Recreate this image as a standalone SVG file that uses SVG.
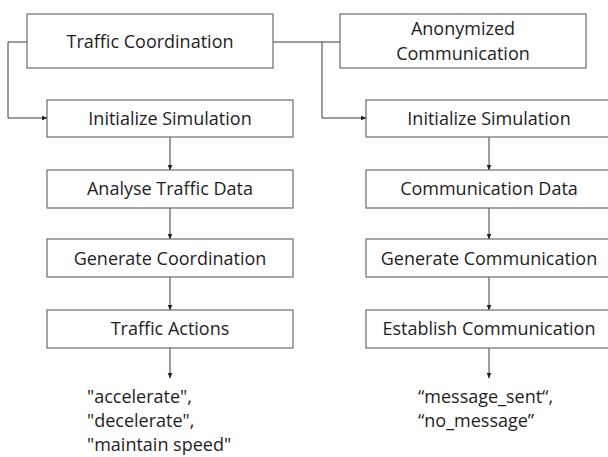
<svg xmlns="http://www.w3.org/2000/svg" width="608" height="457" viewBox="0 0 608 457">
<defs>
<style>
.box{fill:#fff;stroke:#6b6b6b;stroke-width:1.2}
.t{font-family:"Open Sans","Liberation Sans",sans-serif;font-size:18px;fill:#1e1e1e;text-anchor:middle}
.o{font-family:"Open Sans","Liberation Sans",sans-serif;font-size:18px;fill:#1e1e1e}
.c{fill:none;stroke:#3a3a3a;stroke-width:1}
</style>
<marker id="ah" markerWidth="6" markerHeight="6" refX="5.5" refY="3" orient="auto" markerUnits="userSpaceOnUse">
<path d="M0,0.5 L6,3 L0,5.5 Z" fill="#222"/>
</marker>
</defs>
<rect width="608" height="457" fill="#fff"/>
<g id="connectors">
<path class="c" d="M27,42 H8 V118 H47" marker-end="url(#ah)"/>
<path class="c" d="M273,42 H340"/>
<path class="c" d="M322,42 V118 H366" marker-end="url(#ah)"/>
<path class="c" d="M170,137 V170" marker-end="url(#ah)"/>
<path class="c" d="M170,208 V239" marker-end="url(#ah)"/>
<path class="c" d="M170,277 V310" marker-end="url(#ah)"/>
<path class="c" d="M170,348 V378" marker-end="url(#ah)"/>
<path class="c" d="M489,137 V170" marker-end="url(#ah)"/>
<path class="c" d="M489,208 V239" marker-end="url(#ah)"/>
<path class="c" d="M489,277 V310" marker-end="url(#ah)"/>
<path class="c" d="M489,348 V378" marker-end="url(#ah)"/>
</g>
<g id="traffic-coordination">
<rect class="box" x="27" y="14" width="246" height="54"/>
<text class="t" x="150" y="48">Traffic Coordination</text>
</g>
<g id="anonymized-communication">
<rect class="box" x="340" y="14" width="246" height="54"/>
<text class="t" x="463" y="35">Anonymized</text>
<text class="t" x="463" y="60">Communication</text>
</g>
<g id="init-sim-left">
<rect class="box" x="47" y="100" width="246" height="37"/>
<text class="t" x="170" y="125">Initialize Simulation</text>
</g>
<g id="analyse-traffic">
<rect class="box" x="47" y="170" width="246" height="38"/>
<text class="t" x="170" y="195">Analyse Traffic Data</text>
</g>
<g id="generate-coordination">
<rect class="box" x="47" y="239" width="246" height="38"/>
<text class="t" x="170" y="265">Generate Coordination</text>
</g>
<g id="traffic-actions">
<rect class="box" x="47" y="310" width="246" height="38"/>
<text class="t" x="170" y="335">Traffic Actions</text>
</g>
<g id="traffic-output">
<text class="o" x="87" y="403">"accelerate",</text>
<text class="o" x="87" y="427">"decelerate",</text>
<text class="o" x="87" y="451">"maintain speed"</text>
</g>
<g id="init-sim-right">
<rect class="box" x="366" y="100" width="246" height="37"/>
<text class="t" x="489" y="125">Initialize Simulation</text>
</g>
<g id="communication-data">
<rect class="box" x="366" y="170" width="246" height="38"/>
<text class="t" x="489" y="195">Communication Data</text>
</g>
<g id="generate-communication">
<rect class="box" x="366" y="239" width="246" height="38"/>
<text class="t" x="489" y="265">Generate Communication</text>
</g>
<g id="establish-communication">
<rect class="box" x="366" y="310" width="246" height="38"/>
<text class="t" x="489" y="335">Establish Communication</text>
</g>
<g id="communication-output">
<text class="o" x="418" y="403">“message_sent“,</text>
<text class="o" x="418" y="427">“no_message”</text>
</g>
</svg>
